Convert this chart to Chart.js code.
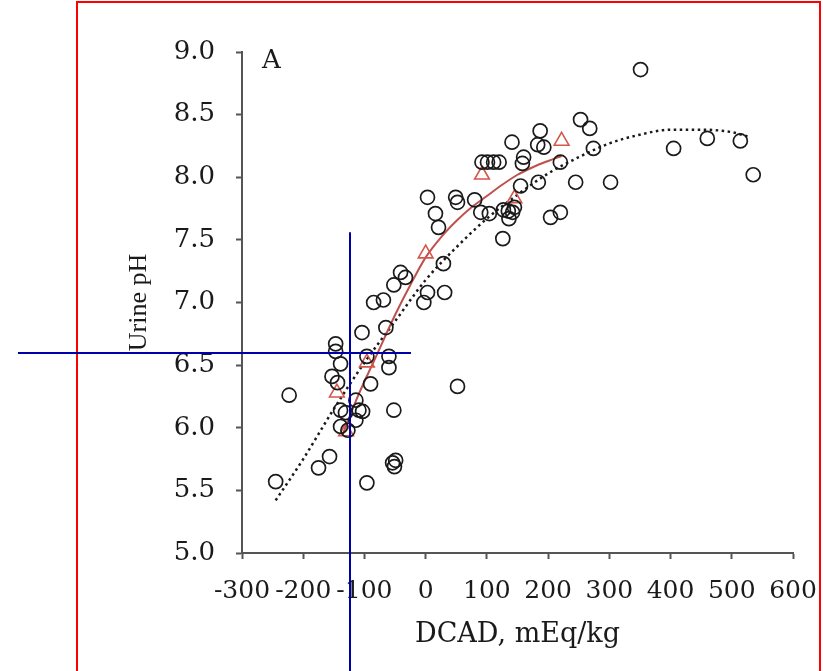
<!DOCTYPE html>
<html><head><meta charset="utf-8">
<script src="https://cdn.jsdelivr.net/npm/chart.js@4"></script>
<style>
html,body{margin:0;padding:0;background:#fff;}
#wrap{position:relative;width:823px;height:671px;overflow:hidden;background:#fff;}
#frame{position:absolute;left:76px;top:1px;width:745px;height:720px;border:2px solid #ff0000;box-sizing:border-box;}
canvas{position:absolute;left:0;top:0;}
</style></head><body>
<div id="wrap"><div id="frame"></div><canvas id="c" width="823" height="671"></canvas></div>
<script>
// ---- axis ticks ----
const xTickValues = [-300, -200, -100, 0, 100, 200, 300, 400, 500, 600];
const xTickLabels = ['-300', '-200', '-100', '0', '100', '200', '300', '400', '500', '600'];
const yTickValues = [5.0, 5.5, 6.0, 6.5, 7.0, 7.5, 8.0, 8.5, 9.0];
const yTickLabels = ['5.0', '5.5', '6.0', '6.5', '7.0', '7.5', '8.0', '8.5', '9.0'];

// ---- individual observations (open circles) ----
const obsX = [-245, -223, -175, -157, -147, -147, -139, -153, -144, -139, -139, -131, -127, -114, -109, -103, -114,
  -104, -96, -90, -60, -60, -52, -85, -69, -52, -41, -33, -65, -96, -54, -51, -49, 52, -3, 3, 31, 29,
  3, 16, 21, 49, 52, 90, 80, 104, 92, 101, 111, 120, 127, 135, 142, 145, 136, 126, 155, 160, 158, 141,
  183, 193, 187, 184, 204, 220, 220, 245, 253, 268, 274, 302, 351, 405, 460, 514, 535];
const obsY = [5.57, 6.26, 5.68, 5.77, 6.67, 6.61, 6.51, 6.41, 6.36, 6.14, 6.01, 6.12, 5.98, 6.22, 6.14, 6.13, 6.06,
  6.76, 6.57, 6.35, 6.57, 6.48, 6.14, 7.00, 7.02, 7.14, 7.24, 7.20, 6.80, 5.56, 5.72, 5.69, 5.74, 6.33, 7.00, 7.08, 7.08, 7.31,
  7.84, 7.71, 7.60, 7.84, 7.80, 7.72, 7.82, 7.71, 8.12, 8.12, 8.12, 8.12, 7.74, 7.73, 7.72, 7.76, 7.67, 7.51, 7.93, 8.16, 8.11, 8.28,
  8.26, 8.24, 8.37, 7.96, 7.68, 7.72, 8.12, 7.96, 8.46, 8.39, 8.23, 7.96, 8.86, 8.23, 8.31, 8.29, 8.02];

// ---- treatment means (open triangles) ----
const meanX = [-145, -130, -96, 0, 92, 145, 222];
const meanY = [6.28, 5.97, 6.52, 7.39, 8.02, 7.83, 8.29];

// ---- fitted curve through means (solid red) ----
const redFitX = [-136, -110, -80, -50, -25, 0, 25, 50, 75, 100, 125, 150, 175, 200, 222];
const redFitY = [5.94, 6.26, 6.58, 6.90, 7.14, 7.36, 7.52, 7.65, 7.76, 7.85, 7.94, 8.02, 8.08, 8.13, 8.17];

const dotFitX = [-245, -200, -150, -100, -50, 0, 50, 100, 150, 200, 250, 300, 350, 400, 450, 500, 530];
const dotFitY = [5.42, 5.75, 6.15, 6.52, 6.85, 7.18, 7.44, 7.67, 7.86, 8.03, 8.16, 8.27, 8.34, 8.38, 8.38, 8.36, 8.32];

// ---- overlay crosshair (data units) ----
const crossX = -124, crossY = 6.60, crossHEndX = -24, crossVTopY = 7.56;

const pts = (xs, ys) => xs.map((x, i) => ({x: x, y: ys[i]}));

const overlay = {
  id: 'overlay',
  afterDraw(chart) {
    const {ctx, scales: {x, y}, chartArea} = chart;
    ctx.save();
    // panel letter
    ctx.fillStyle = '#1a1a1a';
    ctx.font = '26px "DejaVu Serif"';
    ctx.textAlign = 'left';
    ctx.textBaseline = 'middle';
    ctx.fillText('A', chartArea.left + 20, chartArea.top + 9);
    // blue crosshair
    ctx.strokeStyle = '#0000a8';
    ctx.lineWidth = 2;
    const px = Math.round(x.getPixelForValue(crossX));
    const py = Math.round(y.getPixelForValue(crossY));
    ctx.beginPath();
    ctx.moveTo(18, py); ctx.lineTo(x.getPixelForValue(crossHEndX), py);
    ctx.moveTo(px, y.getPixelForValue(crossVTopY)); ctx.lineTo(px, chart.height);
    ctx.stroke();
    ctx.restore();
  }
};

new Chart(document.getElementById('c'), {
  type: 'scatter',
  data: {
    datasets: [
      {
        data: pts(obsX, obsY),
        pointStyle: 'circle', pointRadius: 7, pointBorderWidth: 1.7,
        borderColor: '#1a1a1a', backgroundColor: 'rgba(0,0,0,0)', showLine: false
      },
      {
        data: pts(meanX, meanY),
        pointStyle: 'triangle', pointRadius: 8.5, pointBorderWidth: 1.6,
        borderColor: '#d4574b', backgroundColor: 'rgba(0,0,0,0)', showLine: false
      },
      {
        data: pts(redFitX, redFitY),
        showLine: true, pointRadius: 0, borderColor: '#c0504d', borderWidth: 2,
        cubicInterpolationMode: 'monotone', fill: false
      },
      {
        data: pts(dotFitX, dotFitY),
        showLine: true, pointRadius: 0, borderColor: '#1a1a1a', borderWidth: 2.5,
        borderDash: [2.5, 3.5], cubicInterpolationMode: 'monotone', fill: false
      }
    ]
  },
  options: {
    responsive: false, animation: false, devicePixelRatio: 1,
    layout: {padding: {left: 118, right: 30, top: 52, bottom: 20}},
    plugins: {legend: {display: false}, tooltip: {enabled: false}},
    scales: {
      x: {
        type: 'linear', min: -300, max: 600,
        afterBuildTicks: s => { s.ticks = xTickValues.map(v => ({value: v})); },
        afterFit: s => { s.height = 98; s.paddingLeft = 0; s.paddingRight = 0; },
        ticks: {
          callback: v => xTickLabels[xTickValues.indexOf(v)],
          font: {family: 'DejaVu Serif', size: 25}, color: '#1a1a1a', padding: 17, maxRotation: 0, autoSkip: false
        },
        grid: {drawOnChartArea: false, drawTicks: true, tickLength: 6, tickColor: '#555', tickWidth: 2},
        border: {display: true, color: '#555', width: 2},
        title: {display: true, text: 'DCAD, mEq/kg', font: {family: 'DejaVu Serif', size: 27}, color: '#1a1a1a', padding: {top: 0, bottom: 0}}
      },
      y: {
        type: 'linear', min: 5, max: 9,
        afterBuildTicks: s => { s.ticks = yTickValues.map(v => ({value: v})); },
        afterFit: s => { s.width = 124; s.paddingTop = 0; s.paddingBottom = 0; },
        ticks: {
          callback: v => yTickLabels[yTickValues.indexOf(v)],
          font: {family: 'DejaVu Serif', size: 26}, color: '#1a1a1a', padding: 21, autoSkip: false
        },
        grid: {drawOnChartArea: false, drawTicks: true, tickLength: 6, tickColor: '#555', tickWidth: 2},
        border: {display: true, color: '#555', width: 2},
        title: {display: true, text: 'Urine pH', font: {family: 'Liberation Serif', size: 26}, color: '#1a1a1a', padding: {top: 6, bottom: 0}}
      }
    }
  },
  plugins: [overlay]
});
</script>
</body></html>
